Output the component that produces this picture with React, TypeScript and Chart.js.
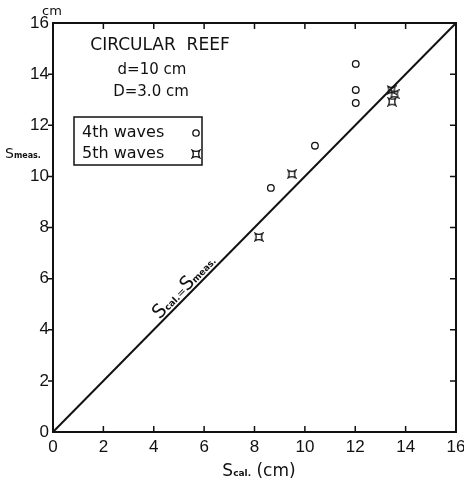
import React, { useEffect, useRef } from 'react';
import { Chart, registerables } from 'chart.js';
Chart.register(...registerables);

const axisTicks = [0, 2, 4, 6, 8, 10, 12, 14, 16];
const wave4X = [8.65, 10.4, 12.02, 12.02, 12.02];
const wave4Y = [9.55, 11.2, 14.4, 13.38, 12.87];
const wave5X = [8.17, 9.48, 13.44, 13.56, 13.46];
const wave5Y = [7.63, 10.09, 13.38, 13.22, 12.92];
const lineX = [0, 16];
const lineY = [0, 16];
const legendLabels = ['4th waves', '5th waves'];
const titleLines = ['CIRCULAR  REEF', 'd=10 cm', 'D=3.0 cm'];

const FF = '"DejaVu Sans", sans-serif';
const TF = '"Liberation Sans", Arial, sans-serif';
const INK = '#111';

function makeStar(size: number) {
  const c = document.createElement('canvas');
  c.width = size;
  c.height = size;
  const g = c.getContext('2d')!;
  const a = 1.2, b = size - 1.2, m = size / 2, k = 2.2;
  g.beginPath();
  g.moveTo(a, a);
  g.quadraticCurveTo(m, a + k, b, a);
  g.quadraticCurveTo(b - k, m, b, b);
  g.quadraticCurveTo(m, b - k, a, b);
  g.quadraticCurveTo(a + k, m, a, a);
  g.closePath();
  g.lineWidth = 1.3;
  g.strokeStyle = INK;
  g.stroke();
  return c;
}

type Part = [string, string];
function drawParts(ctx: CanvasRenderingContext2D, parts: Part[], x: number, y: number, align: 'left' | 'center') {
  let total = 0;
  const widths = parts.map(([t, f]) => {
    ctx.font = f;
    const w = ctx.measureText(t).width;
    total += w;
    return w;
  });
  let cx = align === 'center' ? x - total / 2 : x;
  ctx.textAlign = 'left';
  ctx.textBaseline = 'alphabetic';
  parts.forEach(([t, f], i) => {
    ctx.font = f;
    ctx.fillText(t, cx, y);
    cx += widths[i];
  });
}

export default function App() {
  const ref = useRef<HTMLCanvasElement>(null);
  useEffect(() => {
    const star = makeStar(10);
    const decor = {
      id: 'decor',
      afterDraw(chart: any) {
        const ctx: CanvasRenderingContext2D = chart.ctx;
        const { left, right, top, bottom } = chart.chartArea;
        const xs = chart.scales.x, ys = chart.scales.y;
        ctx.save();
        ctx.strokeStyle = INK;
        ctx.fillStyle = INK;
        ctx.lineWidth = 2;
        ctx.strokeRect(left, top, right - left, bottom - top);
        ctx.lineWidth = 1.5;
        ctx.beginPath();
        axisTicks.forEach((v) => {
          if (v === 0 || v === 16) return;
          const px = xs.getPixelForValue(v);
          const py = ys.getPixelForValue(v);
          ctx.moveTo(px, bottom); ctx.lineTo(px, bottom - 6);
          ctx.moveTo(px, top); ctx.lineTo(px, top + 6);
          ctx.moveTo(left, py); ctx.lineTo(left - 5, py);
          ctx.moveTo(right, py); ctx.lineTo(right - 6, py);
        });
        ctx.stroke();

        // title block
        ctx.textAlign = 'center';
        ctx.textBaseline = 'middle';
        ctx.font = `17px ${FF}`;
        ctx.fillText(titleLines[0], 160, 46);
        ctx.font = `15px ${FF}`;
        ctx.fillText(titleLines[1], 152, 70);
        ctx.fillText(titleLines[2], 151, 92);

        // legend
        ctx.lineWidth = 1.5;
        ctx.strokeRect(74, 117, 128, 48);
        ctx.font = `16px ${FF}`;
        ctx.textAlign = 'left';
        ctx.fillText(legendLabels[0], 82, 133);
        ctx.fillText(legendLabels[1], 82, 154);
        ctx.lineWidth = 1.3;
        ctx.beginPath();
        ctx.arc(196, 133, 3.2, 0, Math.PI * 2);
        ctx.stroke();
        ctx.drawImage(star, 196 - 5, 154 - 5);

        // axis titles
        drawParts(ctx, [['S', `14px ${FF}`], ['meas.', `bold 8px ${FF}`]], 5, 158, 'left');
        drawParts(ctx, [['S', `17px ${FF}`], ['cal.', `bold 9px ${FF}`], [' (cm)', `17px ${FF}`]], 259, 476, 'center');
        ctx.font = `13px ${FF}`;
        ctx.textAlign = 'center';
        ctx.textBaseline = 'alphabetic';
        ctx.fillText('cm', 52, 15);

        // line label
        const x0 = xs.getPixelForValue(lineX[0]), y0 = ys.getPixelForValue(lineY[0]);
        const x1 = xs.getPixelForValue(lineX[1]), y1 = ys.getPixelForValue(lineY[1]);
        const ang = Math.atan2(y1 - y0, x1 - x0);
        const px = xs.getPixelForValue(5.45), py = ys.getPixelForValue(5.45);
        ctx.translate(px, py);
        ctx.rotate(ang);
        drawParts(ctx, [['S', `19px ${FF}`], ['cal.', `bold 9px ${FF}`], ['=', `11px ${FF}`], ['S', `19px ${FF}`], ['meas.', `bold 9px ${FF}`]], 0, -3, 'center');
        ctx.restore();
      },
    };

    const tickFont = { family: TF, size: 17 };
    const chart = new Chart(ref.current!, {
      type: 'scatter',
      data: {
        datasets: [
          {
            type: 'line',
            label: 'line',
            data: lineX.map((x, i) => ({ x, y: lineY[i] })),
            borderColor: INK,
            borderWidth: 2,
            pointRadius: 0,
            fill: false,
          } as any,
          {
            label: legendLabels[0],
            data: wave4X.map((x, i) => ({ x, y: wave4Y[i] })),
            pointStyle: 'circle',
            pointRadius: 3.3,
            backgroundColor: 'rgba(0,0,0,0)',
            borderColor: INK,
            borderWidth: 1.3,
          },
          {
            label: legendLabels[1],
            data: wave5X.map((x, i) => ({ x, y: wave5Y[i] })),
            pointStyle: star as any,
            pointRadius: 5,
          },
        ],
      },
      options: {
        animation: false,
        responsive: false,
        maintainAspectRatio: false,
        layout: { padding: { left: 0, top: 23, right: 8, bottom: 0 } },
        plugins: { legend: { display: false }, tooltip: { enabled: false } },
        scales: {
          x: {
            type: 'linear',
            min: 0,
            max: 16,
            afterFit: (s: any) => { s.height = 50; s.paddingLeft = 0; s.paddingRight = 0; },
            afterBuildTicks: (s: any) => { s.ticks = axisTicks.map((v) => ({ value: v })); },
            grid: { display: false, drawTicks: false, tickLength: 0 },
            border: { display: false },
            ticks: { color: INK, font: tickFont, padding: 5, maxRotation: 0, autoSkip: false },
          },
          y: {
            type: 'linear',
            min: 0,
            max: 16,
            afterFit: (s: any) => { s.width = 53; s.paddingTop = 0; s.paddingBottom = 0; },
            afterBuildTicks: (s: any) => { s.ticks = axisTicks.map((v) => ({ value: v })); },
            grid: { display: false, drawTicks: false, tickLength: 0 },
            border: { display: false },
            ticks: { color: INK, font: tickFont, padding: 4, autoSkip: false },
          },
        },
      },
      plugins: [decor],
    });
    return () => chart.destroy();
  }, []);
  return (
    <div style={{ position: 'fixed', left: 0, top: 0, width: 464, height: 482, background: '#fff' }}>
      <canvas ref={ref} width={464} height={482} style={{ width: 464, height: 482 }} />
    </div>
  );
}
